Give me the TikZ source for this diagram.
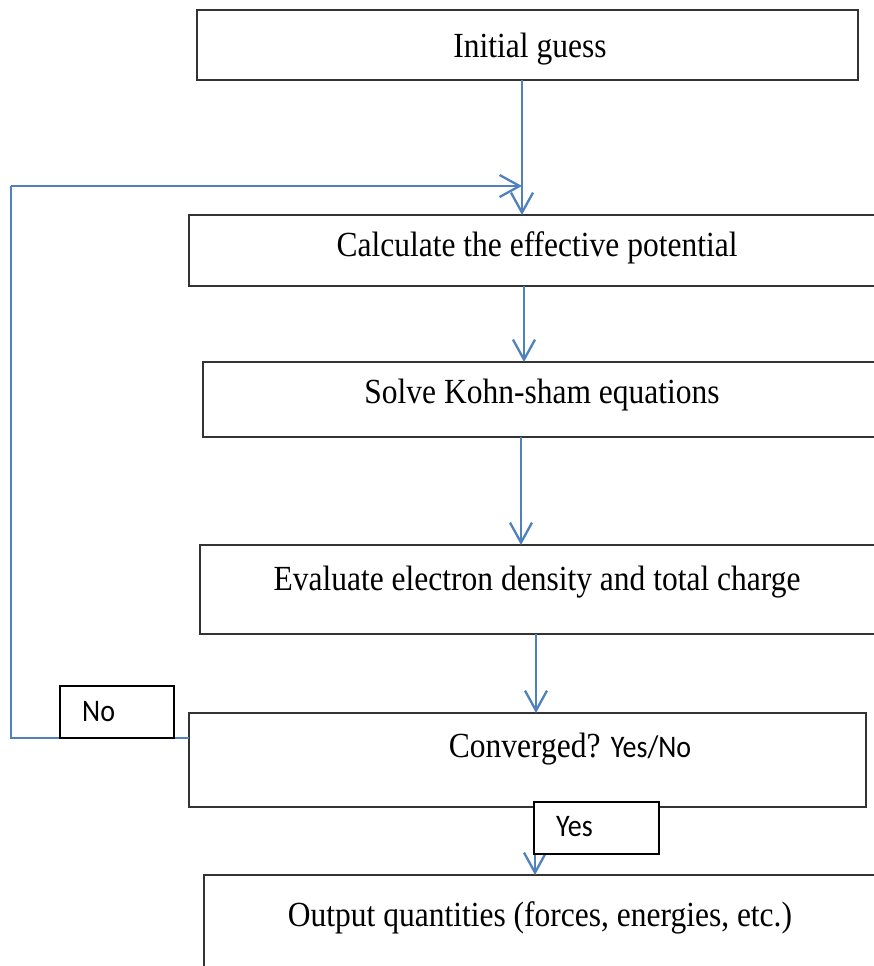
\documentclass[tikz,border=0pt]{standalone}
\usepackage{fontspec}
\setmainfont{Liberation Serif}
\newfontfamily\calib{Carlito}
\usetikzlibrary{arrows.meta}
\definecolor{flowblue}{RGB}{79,129,189}
\newcommand{\tallt}[1]{\scalebox{1}[1.12]{#1}}
\begin{document}
\begin{tikzpicture}[x=1pt,y=-1pt,
  boxstyle/.style={draw=black!80,line width=1.5pt,fill=white,inner sep=0pt,outer sep=0pt},
  txt/.style={anchor=base,inner sep=0pt,font=\fontsize{31.5}{36}\selectfont},
  stxt/.style={anchor=base west,inner sep=0pt,font=\calib\fontsize{28}{32}\selectfont},
  flow/.style={draw=flowblue,line width=2.3pt,-{Straight Barb[length=20pt,width=22pt,line width=2.3pt]}},
  fline/.style={draw=flowblue,line width=2.3pt}]
\clip (0,0) rectangle (874,966);
\fill[white] (0,0) rectangle (874,966);
% boxes
\node[boxstyle,minimum width=661pt,minimum height=70pt,anchor=north west] (b1) at (197,10) {};
\node[boxstyle,minimum width=700pt,minimum height=71pt,anchor=north west] (b2) at (189,215) {};
\node[boxstyle,minimum width=690pt,minimum height=75pt,anchor=north west] (b3) at (203,362) {};
\node[boxstyle,minimum width=690pt,minimum height=89pt,anchor=north west] (b4) at (200,545) {};
\node[boxstyle,minimum width=677pt,minimum height=94pt,anchor=north west] (b5) at (189,713) {};
\node[boxstyle,minimum width=690pt,minimum height=120pt,anchor=north west] (b6) at (204,875) {};
% texts
\node[txt] (t1) at (530,57) {\tallt{Initial guess}};
\node[txt] (t2) at (537,256) {\tallt{Calculate the effective potential}};
\node[txt] (t3) at (542,403) {\tallt{Solve Kohn-sham equations}};
\node[txt] (t4) at (537,590) {\tallt{Evaluate electron density and total charge}};
\node[txt] (t5) at (570,757) {\tallt{Converged? {\calib\fontsize{28}{32}\selectfont Yes/No}}};
\node[txt] (t6) at (540,926) {\tallt{Output quantities (forces, energies, etc.)}};
% connectors
\coordinate (a1s) at (522,80);
\coordinate (a1e) at (522,215);
\draw[flow] (a1s) -- (a1e);
\draw[flow] (524,286) -- (524,362);
\draw[flow] (521,437) -- (521,545);
\draw[flow] (536,634) -- (536,713);
\coordinate (a5s) at (535,807);
\draw[flow] (a5s) -- (535,875);
% feedback loop
\coordinate (fb1) at (11,738);
\coordinate (fb2) at (11,186);
\coordinate (fb3) at (522,186);
\draw[fline] (b5.west |- fb1) -- (fb1) -- (fb2);
\draw[flow] (fb2) -- (fb3);
% labels
\node[boxstyle,draw=black,line width=1.4pt,minimum width=114pt,minimum height=52pt,anchor=north west] (no) at (60,686) {};
\node[stxt] (not) at (82,721) {\tallt{No}};
\node[boxstyle,draw=black,line width=1.4pt,minimum width=125pt,minimum height=52pt,anchor=north west] (yes) at (534,802) {};
\node[stxt] (yest) at (556,836) {\tallt{Yes}};
\end{tikzpicture}
\end{document}
